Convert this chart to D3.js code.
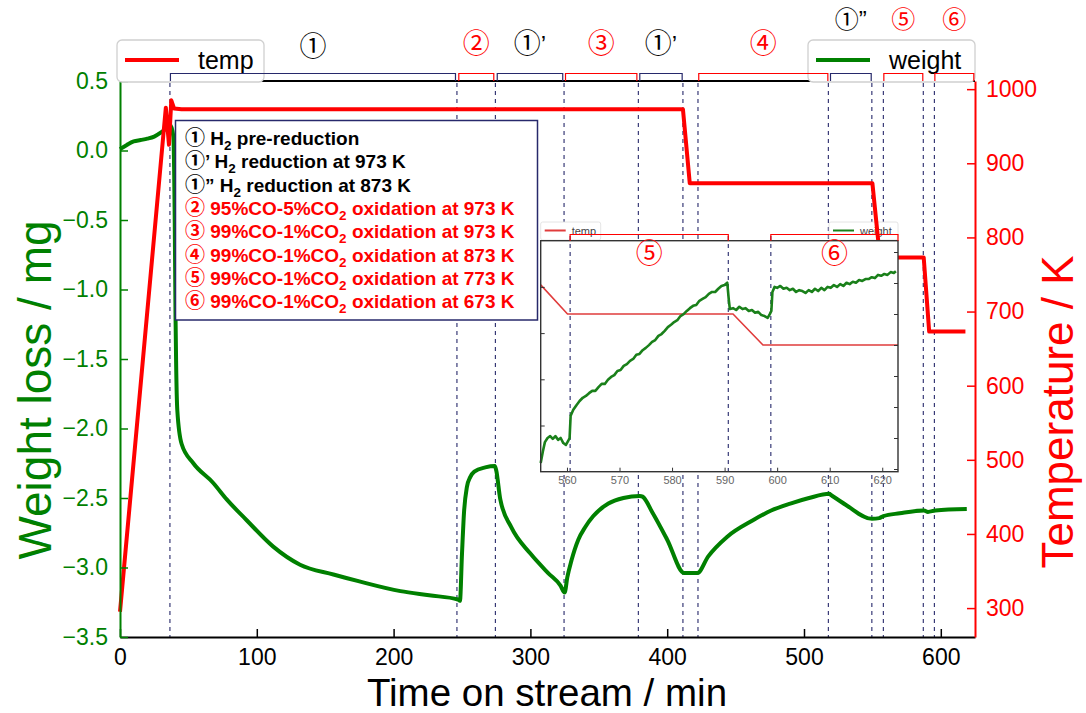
<!DOCTYPE html>
<html>
<head>
<meta charset="utf-8">
<script src="https://cdn.jsdelivr.net/npm/d3@7"></script>
<style>
  body { margin: 0; background: #fff; }
  text { font-family: "Liberation Sans", Arial, "Noto Sans CJK JP", sans-serif; }
</style>
</head>
<body>
<svg id="chart" width="1086" height="713"></svg>
<script>
// ---- data ----
// temperature programme (K)
const tempTime = [0, 33.5, 35.8, 37.5, 39.5, 45, 411.5, 416.5, 550, 555.5, 587.5, 591.5, 618];
const tempK    = [295, 975, 925, 985, 974, 973, 973, 873, 873, 773, 773, 673, 673];

// weight loss (mg)
const weightTime = [0, 5, 10, 15, 20, 25, 30, 34, 37, 39, 40, 40.6, 41, 41.9, 45, 53.6, 68, 78, 92.6, 112,
  131.6, 156, 175, 205, 226, 247, 248.5, 250, 251.5, 253.6, 256, 259, 267, 274, 275, 278, 286, 300, 313,
  322, 325, 327, 330, 335, 340, 346, 357, 368, 380, 382, 389.5, 400, 412.5, 422, 430, 443.7, 462.7, 476,
  490, 503.7, 518.5, 520, 530.7, 549.7, 555, 558, 570, 587.7, 590.6, 596, 619];
const weightMg = [0.01, 0.04, 0.065, 0.075, 0.085, 0.1, 0.13, 0.16, 0.18, 0.1, -0.5, -1.2, -1.51, -1.87,
  -2.11, -2.25, -2.39, -2.51, -2.66, -2.85, -2.98, -3.05, -3.1, -3.17, -3.2, -3.23, -3.24, -2.9, -2.6,
  -2.42, -2.35, -2.31, -2.28, -2.27, -2.3, -2.51, -2.71, -2.9, -3.04, -3.13, -3.18, -3.07, -2.95, -2.8,
  -2.71, -2.63, -2.54, -2.5, -2.485, -2.49, -2.61, -2.8, -3.04, -3.04, -2.92, -2.78, -2.66, -2.59, -2.54,
  -2.5, -2.47, -2.48, -2.55, -2.65, -2.645, -2.63, -2.61, -2.59, -2.6, -2.59, -2.58];

// gas switching (min) and the step brackets above the plot
const switchTimes = [36.5, 246.3, 274.4, 324.6, 378.9, 411.5, 422.5, 517.8, 549.6, 558.0, 587.2, 595.3];
const phaseStart = [36.5, 247.3, 275.4, 325.3, 379.6, 422.7, 519.0, 558.0, 595.3];
const phaseEnd   = [245.6, 273.6, 324.0, 378.2, 411.3, 517.8, 549.5, 587.2, 624.5];
const phaseLabel = ["①", "②", "①’", "③", "①’", "④", "①”", "⑤", "⑥"];
const phaseGas   = ["H2", "CO", "H2", "CO", "H2", "CO", "H2", "CO", "CO"];

// step list in the box
const stepText = [
  "① H_2 pre-reduction",
  "①’ H_2 reduction at 973 K",
  "①” H_2 reduction at 873 K",
  "② 95%CO-5%CO_2 oxidation at 973 K",
  "③ 99%CO-1%CO_2 oxidation at 973 K",
  "④ 99%CO-1%CO_2 oxidation at 873 K",
  "⑤ 99%CO-1%CO_2 oxidation at 773 K",
  "⑥ 99%CO-1%CO_2 oxidation at 673 K"
];
const stepGas = ["H2", "H2", "H2", "CO", "CO", "CO", "CO", "CO"];

// axis ticks
const xTicks = [0, 100, 200, 300, 400, 500, 600];
const wTicks = [-3.5, -3.0, -2.5, -2.0, -1.5, -1.0, -0.5, 0.0, 0.5];
const tTicks = [300, 400, 500, 600, 700, 800, 900, 1000];

// inset (zoom on steps 5 and 6)
const insetTempTime = [555, 560.1, 591.6, 597.3, 623];
const insetTempK    = [867, 773, 773, 673, 673];
const insetWeightTime = [555.0, 555.4, 555.8, 556.3, 556.8, 557.3, 557.8, 558.3, 558.8, 559.3, 559.8, 560.2,
  560.5, 560.7, 561.2, 561.8, 562.4, 563.0, 563.6, 564.2, 564.8, 565.4, 566.0, 566.6, 567.2, 567.8, 568.4,
  569.0, 569.6, 570.2, 570.8, 571.4, 572.0, 572.6, 573.2, 573.8, 574.4, 575.0, 575.6, 576.2, 576.8, 577.4,
  578.0, 578.6, 579.2, 579.8, 580.4, 581.0, 581.6, 582.2, 582.8, 583.4, 584.0, 584.6, 585.2, 585.8, 586.4,
  587.0, 587.6, 588.2, 588.8, 589.4, 590.0, 590.5, 590.8, 591.0, 591.6, 592.2, 592.8, 593.4, 594.0, 594.6,
  595.2, 595.8, 596.4, 597.0, 597.6, 598.2, 598.6, 598.9, 599.1, 599.5, 600.0, 600.6, 601.2, 601.8, 602.4,
  603.0, 603.6, 604.2, 604.8, 605.4, 606.0, 606.6, 607.2, 607.8, 608.4, 609.0, 609.6, 610.2, 610.8, 611.4,
  612.0, 612.6, 613.2, 613.8, 614.4, 615.0, 615.6, 616.2, 616.8, 617.4, 618.0, 618.6, 619.2, 619.8, 620.4,
  621.0, 621.6, 622.2, 622.6];
const insetWeightMg = [-2.6581, -2.6557, -2.6536, -2.6527, -2.6523, -2.6529, -2.6523, -2.6531, -2.6527,
  -2.6538, -2.6542, -2.6534, -2.6527, -2.6479, -2.6466, -2.6456, -2.6447, -2.6440, -2.6436, -2.6430,
  -2.6425, -2.6425, -2.6417, -2.6410, -2.6410, -2.6401, -2.6395, -2.6391, -2.6382, -2.6380, -2.6371,
  -2.6367, -2.6360, -2.6356, -2.6347, -2.6345, -2.6337, -2.6332, -2.6326, -2.6319, -2.6315, -2.6306,
  -2.6302, -2.6295, -2.6287, -2.6282, -2.6276, -2.6272, -2.6263, -2.6259, -2.6252, -2.6246, -2.6241,
  -2.6239, -2.6230, -2.6226, -2.6222, -2.6215, -2.6211, -2.6211, -2.6204, -2.6198, -2.6196, -2.6191,
  -2.6228, -2.6248, -2.6246, -2.6250, -2.6243, -2.6248, -2.6246, -2.6252, -2.6250, -2.6256, -2.6254,
  -2.6261, -2.6263, -2.6267, -2.6259, -2.6252, -2.6211, -2.6200, -2.6202, -2.6198, -2.6204, -2.6202,
  -2.6207, -2.6204, -2.6211, -2.6207, -2.6209, -2.6213, -2.6207, -2.6211, -2.6204, -2.6209, -2.6202,
  -2.6207, -2.6200, -2.6202, -2.6196, -2.6200, -2.6194, -2.6198, -2.6191, -2.6194, -2.6189, -2.6191,
  -2.6185, -2.6187, -2.6183, -2.6183, -2.6179, -2.6181, -2.6174, -2.6176, -2.6172, -2.6174, -2.6168,
  -2.6170, -2.6166];
const insetSwitchTimes = [560.6, 590.7, 598.8];
const insetPhaseStart = [560.6, 598.8];
const insetPhaseEnd   = [590.7, 623];
const insetPhaseLabel = ["⑤", "⑥"];
const insetXTicks = [560, 570, 580, 590, 600, 610, 620];
const insetWTicks = [-2.65, -2.64, -2.63, -2.62];
const insetTTicks = [273, 373, 473, 573, 673, 773, 873, 973];

// ---- drawing ----
const RED = "#ff0000", GREEN = "#008000", NAVY = "#27296b";
const CJK = "'Noto Sans CJK JP', sans-serif";
const gasColor = g => g === "H2" ? NAVY : RED;
const textColor = g => g === "H2" ? "#000" : RED;

// circled digits (optionally in a CJK face), "_2" as a subscript
function richText(sel, str, subSize, drop, circSize, useCJK) {
  let low = false;
  str.split(/([\u2460-\u2473]|_2)/).filter(s => s !== "").forEach(tok => {
    if (tok === "_2") {
      sel.append("tspan").attr("dy", drop).attr("font-size", subSize).text("2");
      low = true;
      return;
    }
    const ts = sel.append("tspan").attr("dy", low ? -drop : 0).text(tok);
    if (/[\u2460-\u2473]/.test(tok)) {
      ts.attr("font-size", circSize);
      if (useCJK) ts.attr("font-family", CJK);
    }
    low = false;
  });
}

const svg = d3.select("#chart");
const plotL = 120, plotR = 975, plotT = 81, plotB = 637;

const x = d3.scaleLinear().domain([0, 625]).range([plotL, plotR]);
const yW = d3.scaleLinear().domain([-3.5, 0.5]).range([plotB, plotT]);
const yT = d3.scaleLinear().domain([261, 1011]).range([plotB, plotT]);

// switching lines
svg.append("g").selectAll("line")
  .data(switchTimes)
  .join("line")
  .attr("x1", d => x(d)).attr("x2", d => x(d))
  .attr("y1", plotT + 2).attr("y2", plotB)
  .attr("stroke", NAVY).attr("stroke-width", 1.1)
  .attr("stroke-dasharray", "4,4");

// inset geometry
const ix = d3.scaleLinear().domain([555, 623]).range([540.7, 898]);
const iyW = d3.scaleLinear().domain([-2.66, -2.61]).range([471.7, 240.7]);
const iyT = d3.scaleLinear().domain([264.3, 1009.5]).range([471.7, 240.7]);

// inset legends (sit above the inset frame, under the main curves)
function smallLegend(x0, w, color, label) {
  const g = svg.append("g");
  g.append("rect").attr("x", x0).attr("y", 222).attr("width", w).attr("height", 18)
    .attr("rx", 2).attr("fill", "#fff").attr("stroke", "#ddd").attr("stroke-width", 0.8);
  g.append("line").attr("x1", x0 + 4).attr("x2", x0 + 25).attr("y1", 230.5).attr("y2", 230.5)
    .attr("stroke", color).attr("stroke-width", 2);
  g.append("text").attr("x", x0 + 31).attr("y", 235).attr("font-size", 11).attr("fill", "#444").text(label);
}
smallLegend(540.7, 60, "#e03c3c", "temp");
smallLegend(829, 69, "#1a801a", "weight");

// main curves
const line = d3.line().curve(d3.curveMonotoneX);
svg.append("path")
  .attr("d", line(weightTime.map((t, i) => [x(t), yW(weightMg[i])])))
  .attr("fill", "none").attr("stroke", GREEN).attr("stroke-width", 4).attr("stroke-linejoin", "round");
svg.append("path")
  .attr("d", d3.line()(tempTime.map((t, i) => [x(t), yT(tempK[i])])))
  .attr("fill", "none").attr("stroke", RED).attr("stroke-width", 4).attr("stroke-linejoin", "round");

// axes
const gx = svg.append("g").attr("transform", `translate(0,${plotB})`)
  .call(d3.axisBottom(x).tickValues(xTicks).tickSize(-8).tickSizeOuter(0).tickPadding(12));
gx.selectAll("text").attr("font-size", 23).attr("fill", "#000");
gx.selectAll("line").attr("stroke", "#000").attr("stroke-width", 1.5);
gx.select(".domain").attr("stroke", "#000").attr("stroke-width", 2);

const gl = svg.append("g").attr("transform", `translate(${plotL},0)`)
  .call(d3.axisLeft(yW).tickValues(wTicks).tickSize(-8).tickSizeOuter(0).tickPadding(12)
    .tickFormat(d3.format(".1f")));
gl.selectAll("text").attr("font-size", 23).attr("fill", GREEN);
gl.selectAll("line").attr("stroke", GREEN).attr("stroke-width", 1.5);
gl.select(".domain").attr("stroke", GREEN).attr("stroke-width", 2);

const gr = svg.append("g").attr("transform", `translate(${plotR},0)`)
  .call(d3.axisRight(yT).tickValues(tTicks).tickSize(-8).tickSizeOuter(0).tickPadding(11)
    .tickFormat(d3.format("d")));
gr.selectAll("text").attr("font-size", 23).attr("fill", RED);
gr.selectAll("line").attr("stroke", RED).attr("stroke-width", 1.5);
gr.select(".domain").attr("stroke", RED).attr("stroke-width", 2);

svg.append("line").attr("x1", plotL).attr("x2", plotR).attr("y1", plotT).attr("y2", plotT)
  .attr("stroke", "#000").attr("stroke-width", 2);

// axis titles
svg.append("text").attr("x", 547).attr("y", 706).attr("text-anchor", "middle")
  .attr("font-size", 38.5).text("Time on stream / min");
svg.append("text").attr("transform", "translate(51,390) rotate(-90)").attr("text-anchor", "middle")
  .attr("font-size", 46).attr("fill", GREEN).text("Weight loss / mg");
svg.append("text").attr("transform", "translate(1073,412) rotate(-90)").attr("text-anchor", "middle")
  .attr("font-size", 44).attr("fill", RED).text("Temperature / K");

// step list box
const box = svg.append("g");
box.append("rect").attr("x", 175.5).attr("y", 120.5).attr("width", 362).attr("height", 199.5)
  .attr("fill", "#fff").attr("stroke", NAVY).attr("stroke-width", 1.5);
stepText.forEach((s, i) => {
  const t = box.append("text").attr("x", 185).attr("y", 145 + i * 23.3)
    .attr("font-size", 19).attr("font-weight", "bold").attr("fill", textColor(stepGas[i]));
  richText(t, s, 13.5, 5, 20, false);
});

// inset
const inset = svg.append("g");
inset.append("rect").attr("x", 540.7).attr("y", 240.7).attr("width", 357.3).attr("height", 231)
  .attr("fill", "#fff");
inset.append("g").selectAll("line")
  .data(insetSwitchTimes)
  .join("line")
  .attr("x1", d => ix(d)).attr("x2", d => ix(d))
  .attr("y1", 236).attr("y2", 471.7)
  .attr("stroke", NAVY).attr("stroke-width", 1.1).attr("stroke-dasharray", "4,4");
inset.append("path")
  .attr("d", d3.line()(insetTempTime.map((t, i) => [ix(t), iyT(insetTempK[i])])))
  .attr("fill", "none").attr("stroke", "#e03c3c").attr("stroke-width", 1.6);
inset.append("path")
  .attr("d", d3.line()(insetWeightTime.map((t, i) => [ix(t), iyW(insetWeightMg[i])])))
  .attr("fill", "none").attr("stroke", "#1a801a").attr("stroke-width", 2.6).attr("stroke-linejoin", "round");

const ixa = inset.append("g").attr("transform", "translate(0,471.7)")
  .call(d3.axisBottom(ix).tickValues(insetXTicks).tickSize(-4).tickSizeOuter(0).tickPadding(5));
ixa.selectAll("text").attr("font-size", 11).attr("fill", "#666");
const iya = inset.append("g").attr("transform", "translate(540.7,0)")
  .call(d3.axisLeft(iyW).tickValues(insetWTicks).tickSize(-4).tickFormat(""));
const iyb = inset.append("g").attr("transform", "translate(898,0)")
  .call(d3.axisRight(iyT).tickValues(insetTTicks).tickSize(-4).tickFormat(""));
[ixa, iya, iyb].forEach(g => {
  g.select(".domain").remove();
  g.selectAll("line").attr("stroke", "#333").attr("stroke-width", 1);
});
inset.append("rect").attr("x", 540.7).attr("y", 240.7).attr("width", 357.3).attr("height", 231)
  .attr("fill", "none").attr("stroke", "#333").attr("stroke-width", 1.4);

insetPhaseStart.forEach((s, i) => {
  const x0 = ix(s), x1 = ix(insetPhaseEnd[i]);
  inset.append("path").attr("d", `M${x0},240.7V234.5H${x1}V240.7`)
    .attr("fill", "none").attr("stroke", RED).attr("stroke-width", 1.2);
  inset.append("text").attr("x", (x0 + x1) / 2).attr("y", 254).attr("dy", "0.35em")
    .attr("text-anchor", "middle").attr("font-family", CJK)
    .attr("font-size", 27).attr("fill", RED).text(insetPhaseLabel[i]);
});

// main legends
function bigLegend(x0, x1, color, label) {
  const g = svg.append("g");
  g.append("rect").attr("x", x0).attr("y", 40).attr("width", x1 - x0).attr("height", 42)
    .attr("rx", 5).attr("fill", "#fff").attr("stroke", "#d0d0d0").attr("stroke-width", 1.3);
  g.append("line").attr("x1", x0 + 8).attr("x2", x0 + 62).attr("y1", 60).attr("y2", 60)
    .attr("stroke", color).attr("stroke-width", 4);
  g.append("text").attr("x", x0 + 81).attr("y", 69).attr("font-size", 25).attr("fill", "#000").text(label);
}
bigLegend(117, 264, RED, "temp");
bigLegend(808, 975, GREEN, "weight");

// step brackets above the plot (labels over the right legend are lifted above it)
phaseStart.forEach((s, i) => {
  const x0 = x(s) + 0.5, x1 = x(phaseEnd[i]) - 0.5;
  svg.append("path").attr("d", `M${x0},${plotT}V73.5H${x1}V${plotT}`)
    .attr("fill", "none").attr("stroke", gasColor(phaseGas[i])).attr("stroke-width", 1.2);
  const cx = (x0 + x1) / 2;
  const lifted = cx > 808;
  const cy = lifted ? 28 : (i === 0 ? 56 : 53);
  const t = svg.append("text").attr("x", cx).attr("y", cy).attr("dy", "0.35em").attr("text-anchor", "middle")
    .attr("font-size", 24).attr("fill", textColor(phaseGas[i]));
  richText(t, phaseLabel[i], 16, 0, lifted ? 24 : 27, !lifted);
});
</script>
</body>
</html>
